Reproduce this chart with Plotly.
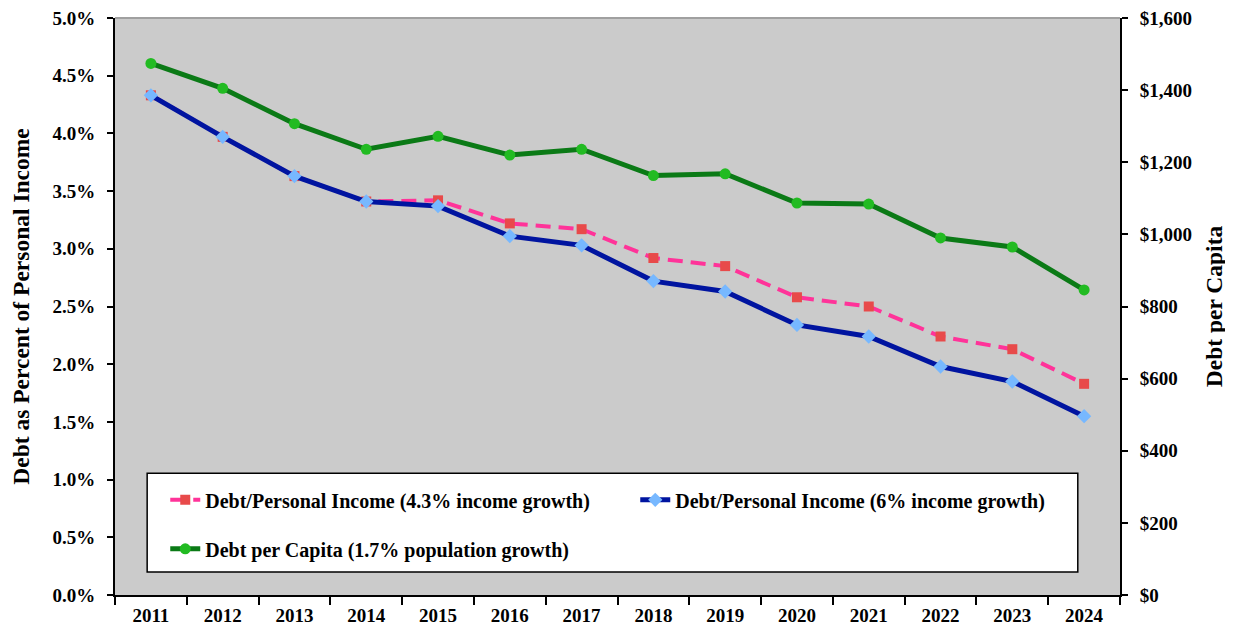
import plotly.graph_objects as go

years = [str(y) for y in range(2011, 2025)]
pct_43 = [4.33, 3.97, 3.63, 3.41, 3.42, 3.22, 3.17, 2.92, 2.85, 2.58, 2.50, 2.24, 2.13, 1.83]
pct_60 = [4.33, 3.97, 3.63, 3.41, 3.37, 3.11, 3.03, 2.72, 2.63, 2.34, 2.24, 1.98, 1.85, 1.55]
per_capita = [1474, 1405, 1307, 1236, 1272, 1220, 1236, 1163, 1168, 1087, 1084, 990, 965, 846]

left_ticks = [round(i * 0.005, 4) for i in range(11)]
right_ticks = list(range(0, 1601, 200))
right_labels = ["$0", "$200", "$400", "$600", "$800", "$1,000", "$1,200", "$1,400", "$1,600"]

FONT = "Liberation Serif"
TICKFONT = dict(family=FONT, size=19, color="black", weight="bold")

fig = go.Figure()
fig.add_trace(go.Scatter(
    x=years, y=[v / 100 for v in pct_43], name="<b>Debt/Personal Income (4.3% income growth)</b>",
    mode="lines+markers", line=dict(color="#ff3399", width=4, dash="15px,8px"),
    marker=dict(symbol="square", size=10, color="#e84a4a"), legend="legend"))
fig.add_trace(go.Scatter(
    x=years, y=[v / 100 for v in pct_60], name="<b>Debt/Personal Income (6% income growth)</b>",
    mode="lines+markers", line=dict(color="#0014a0", width=5),
    marker=dict(symbol="diamond", size=11, color="#77b8ff"), legend="legend"))
fig.add_trace(go.Scatter(
    x=years, y=per_capita, name="<b>Debt per Capita (1.7% population growth)</b>",
    mode="lines+markers", line=dict(color="#0b7a16", width=5),
    marker=dict(symbol="circle", size=11, color="#22bb22"), yaxis="y2", legend="legend2"))

fig.update_layout(
    width=1225, height=621,
    margin=dict(l=107, r=113, t=10, b=34, autoexpand=False),
    paper_bgcolor="white", plot_bgcolor="#cbcbcb",
    font=dict(family=FONT, size=19, color="black"),
    showlegend=True,
    xaxis=dict(type="category", tickson="boundaries", ticks="outside", ticklen=8, tickwidth=2,
               tickcolor="black", showline=True, linecolor="black", linewidth=2,
               showgrid=False, tickfont=TICKFONT, ticklabelstandoff=2, tickangle=0,
               automargin=False, ticklabeloverflow="allow",
               range=[-0.5, 13.5]),
    yaxis=dict(range=[0, 0.05], tickvals=left_ticks, tickformat=".1%", ticks="outside",
               ticklen=6, tickwidth=2, tickcolor="black", showline=True, linecolor="black",
               linewidth=2, showgrid=False, zeroline=False, tickfont=TICKFONT,
               ticklabelstandoff=8, automargin=False, ticklabeloverflow="allow",
               title=dict(text="<b>Debt as Percent of Personal Income</b>",
                          font=dict(family=FONT, size=23.5), standoff=22)),
    yaxis2=dict(range=[0, 1600], tickvals=right_ticks, ticktext=right_labels,
                overlaying="y", side="right", ticks="outside", ticklen=6, tickwidth=2,
                tickcolor="black", showline=True, linecolor="black", linewidth=2,
                showgrid=False, zeroline=False, tickfont=TICKFONT, ticklabelstandoff=8,
                automargin=False, ticklabeloverflow="allow",
                title=dict(text="<b>Debt per Capita</b>", font=dict(family=FONT, size=23.5),
                           standoff=15)),
    legend=dict(orientation="h", x=0.05, y=0.165, xanchor="left", yanchor="middle",
                bgcolor="rgba(0,0,0,0)", borderwidth=0, entrywidth=425,
                font=dict(family=FONT, size=20, color="black")),
    legend2=dict(orientation="h", x=0.05, y=0.08, xanchor="left", yanchor="middle",
                 bgcolor="rgba(0,0,0,0)", borderwidth=0,
                 font=dict(family=FONT, size=20, color="black")),
    shapes=[
        dict(type="rect", xref="paper", yref="paper", x0=0.032, x1=0.958, y0=0.04, y1=0.211,
             fillcolor="white", line=dict(color="black", width=1.5), layer="below"),
        dict(type="line", xref="paper", yref="paper", x0=0, x1=1, y0=1, y1=1,
             line=dict(color="#a0a0a0", width=2)),
    ],
)

fig.write_html("out.html")
